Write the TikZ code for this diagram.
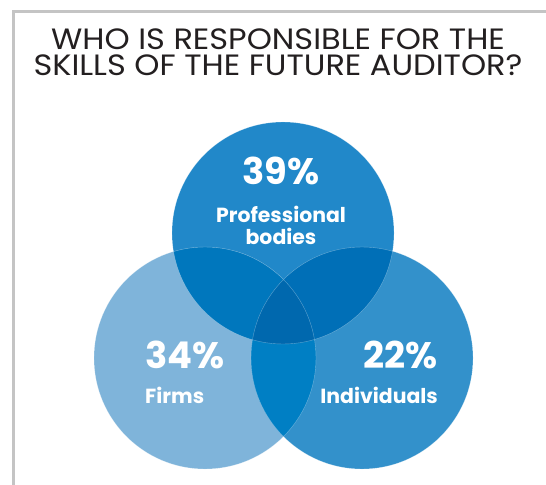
\documentclass[tikz,border=0pt]{standalone}
\usepackage{fontspec}
\setmainfont{Poppins}
\newfontfamily\titlefont{Poppins}[FakeStretch=1.09]
\definecolor{framegray}{HTML}{C4C4C4}
\definecolor{titlegray}{HTML}{231F20}
\definecolor{bodiesblue}{HTML}{2188C9}
\definecolor{firmsblue}{HTML}{7FB4DA}
\definecolor{indivblue}{HTML}{3391CB}
\definecolor{bfblue}{HTML}{0077BD}
\definecolor{biblue}{HTML}{006FB7}
\definecolor{fiblue}{HTML}{007FC4}
\definecolor{allblue}{HTML}{0068AE}
\tikzset{
  pct/.style={text=white, inner sep=0pt, font=\bfseries\fontsize{37}{37}\selectfont},
  lbl/.style={text=white, inner sep=0pt, font=\bfseries\fontsize{20.5}{20.5}\selectfont},
  ttl/.style={text=titlegray, inner sep=0pt, align=center, anchor=north,
    font=\titlefont\fontsize{29.5}{26}\selectfont}
}
\begin{document}
\begin{tikzpicture}[x=1bp, y=-1bp]
    \useasboundingbox (0,0) rectangle (546,485);
    \fill[white] (0,0) rectangle (546,485);
    \draw[framegray, line width=2.5bp] (13.5,485) -- (13.5,11.5) -- (546,11.5);

    \node[ttl] (title) at (278,29) {WHO IS RESPONSIBLE FOR THE\\SKILLS OF THE FUTURE AUDITOR?};

    \coordinate (pb) at (283,233);
    \coordinate (fm) at (205,358);
    \coordinate (iv) at (362,358);

    \fill[bodiesblue] (pb) circle (111);
    \fill[firmsblue] (fm) circle (111);
    \fill[indivblue] (iv) circle (111);

    % overlaps
    \begin{scope}
        \clip (pb) circle (111);
        \fill[bfblue] (fm) circle (111);
        \fill[biblue] (iv) circle (111);
    \end{scope}
    \begin{scope}
        \clip (fm) circle (111);
        \fill[fiblue] (iv) circle (111);
        \clip (pb) circle (111);
        \fill[allblue] (iv) circle (111);
    \end{scope}
    \draw[white, opacity=0.35, line width=0.4bp] (pb) circle (111) (fm) circle (111) (iv) circle (111);

    \node[pct, anchor=base] (pbpct) at (281,185) {39\%};
    \node[lbl, anchor=base] (pbl1) at (281,222) {Professional};
    \node[lbl, anchor=base] (pbl2) at (281,244) {bodies};

    \node[pct, anchor=base west] (fmpct) at (145,368) {34\%};
    \node[lbl, anchor=base west] (fml) at (145,403) {Firms};

    \node[pct, anchor=base east] (ivpct) at (438,368) {22\%};
    \node[lbl, anchor=base east] (ivl) at (438,403) {Individuals};
\end{tikzpicture}
\end{document}
